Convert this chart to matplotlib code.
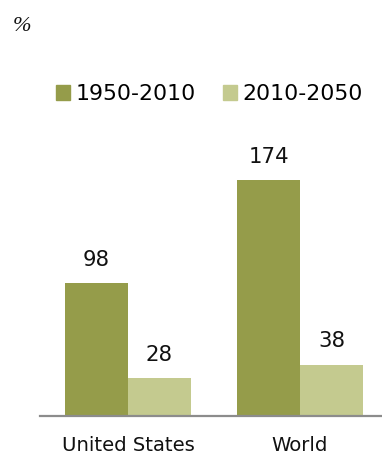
import matplotlib
matplotlib.use('Agg')
import matplotlib.pyplot as plt
from matplotlib.patches import Patch
import numpy as np

# Population growth, %
regions = ['United States', 'World']
growth_1950_2010 = [98, 174]
growth_2010_2050 = [28, 38]
series_labels = ['1950-2010', '2010-2050']

dark_green = '#959c4a'
light_green = '#c4ca8f'

plt.rcParams['font.family'] = ['DejaVu Sans']

fig = plt.figure(figsize=(3.82, 4.55), dpi=100)
ax = fig.add_axes([40 / 382, 39 / 455, 342 / 382, 257.3 / 455])

x = np.arange(len(regions))
width = 0.366
bars1 = ax.bar(x - width / 2, growth_1950_2010, width, color=dark_green)
bars2 = ax.bar(x + width / 2, growth_2010_2050, width, color=light_green)

# value labels above the bars
for bars, vals in [(bars1, growth_1950_2010), (bars2, growth_2010_2050)]:
    for b, v in zip(bars, vals):
        ax.annotate(str(v), (b.get_x() + b.get_width() / 2, v),
                    xytext=(0, 12.4), textcoords='offset points',
                    ha='center', va='baseline', fontsize=15.3, color='#111111')

ax.set_xlim(-0.512, 1.477)
ax.set_ylim(0, 190)
ax.set_xticks(x)
ax.set_xticklabels(regions, fontsize=14.1, color='#111111')
ax.tick_params(axis='x', length=0, pad=14.5)
ax.set_yticks([])
for side in ['top', 'left', 'right']:
    ax.spines[side].set_visible(False)
ax.spines['bottom'].set_color('#8c8c8c')
ax.spines['bottom'].set_linewidth(1.6)

# legend on top
handles = [Patch(color=dark_green), Patch(color=light_green)]
fig.legend(handles, series_labels, loc='center left',
           bbox_to_anchor=(56 / 382, 1 - 94 / 455), ncol=2, frameon=False,
           fontsize=15.8, handlelength=0.64, handleheight=0.64,
           handletextpad=0.23, columnspacing=1.28, borderpad=0, borderaxespad=0)

fig.text(13 / 382, 1 - 31 / 455, '%', fontsize=16, style='italic',
         family=['Liberation Serif', 'DejaVu Serif'], color='#111111',
         ha='left', va='baseline')

fig.savefig('out.png', dpi=100)
